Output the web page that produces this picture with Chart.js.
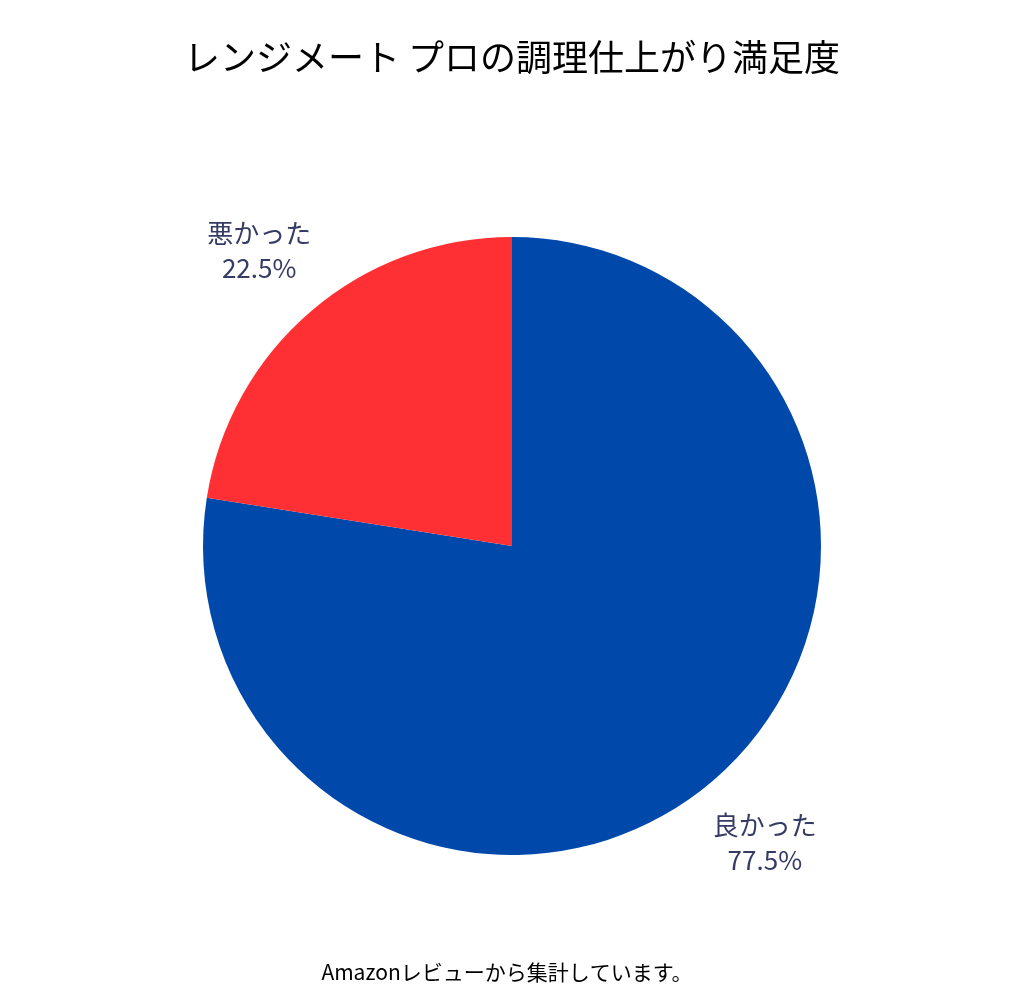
<!DOCTYPE html>
<html>
<head>
<meta charset="utf-8">
<script src="https://cdn.jsdelivr.net/npm/chart.js@4"></script>
<style>body{margin:0;background:#fff}</style>
</head>
<body>
<canvas id="myChart" width="1024" height="1000"></canvas>
<script>
const labels = ['良かった', '悪かった'];
const values = [77.5, 22.5];
const colors = ['#0049AA', '#FF3033'];
const titleText = 'レンジメート プロの調理仕上がり満足度';
const noteText = 'Amazonレビューから集計しています。';
const FONT = '"Noto Sans CJK JP", "Noto Sans", sans-serif';

const textPlugin = {
    id: 'textPlugin',
    afterDraw(chart) {
        const ctx = chart.ctx;
        ctx.save();
        ctx.textAlign = 'center';
        ctx.textBaseline = 'middle';
        ctx.fillStyle = '#000';
        ctx.font = '36px ' + FONT;
        ctx.fillText(titleText, 512, 57);
        ctx.font = '21px ' + FONT;
        ctx.fillText(noteText, 507, 972);

        // outside labels
        const meta = chart.getDatasetMeta(0);
        ctx.fillStyle = '#363B66';
        ctx.font = '26px ' + FONT;
        meta.data.forEach((arc, i) => {
            const mid = (arc.startAngle + arc.endAngle) / 2;
            const r = arc.outerRadius * 1.26;
            const x = arc.x + Math.cos(mid) * r;
            const y = arc.y + Math.sin(mid) * r;
            ctx.fillText(labels[i], x, y - 17);
            ctx.fillText(values[i].toFixed(1) + '%', x, y + 18);
        });
        ctx.restore();
    }
};

new Chart(document.getElementById('myChart').getContext('2d'), {
    type: 'pie',
    data: {
        labels: labels,
        datasets: [{
            data: values,
            backgroundColor: colors,
            borderWidth: 0
        }]
    },
    options: {
        responsive: false,
        animation: false,
        devicePixelRatio: 1,
        layout: { padding: { top: 237, bottom: 145, left: 0, right: 0 } },
        plugins: {
            legend: { display: false },
            tooltip: { enabled: false }
        }
    },
    plugins: [textPlugin]
});
</script>
</body>
</html>
